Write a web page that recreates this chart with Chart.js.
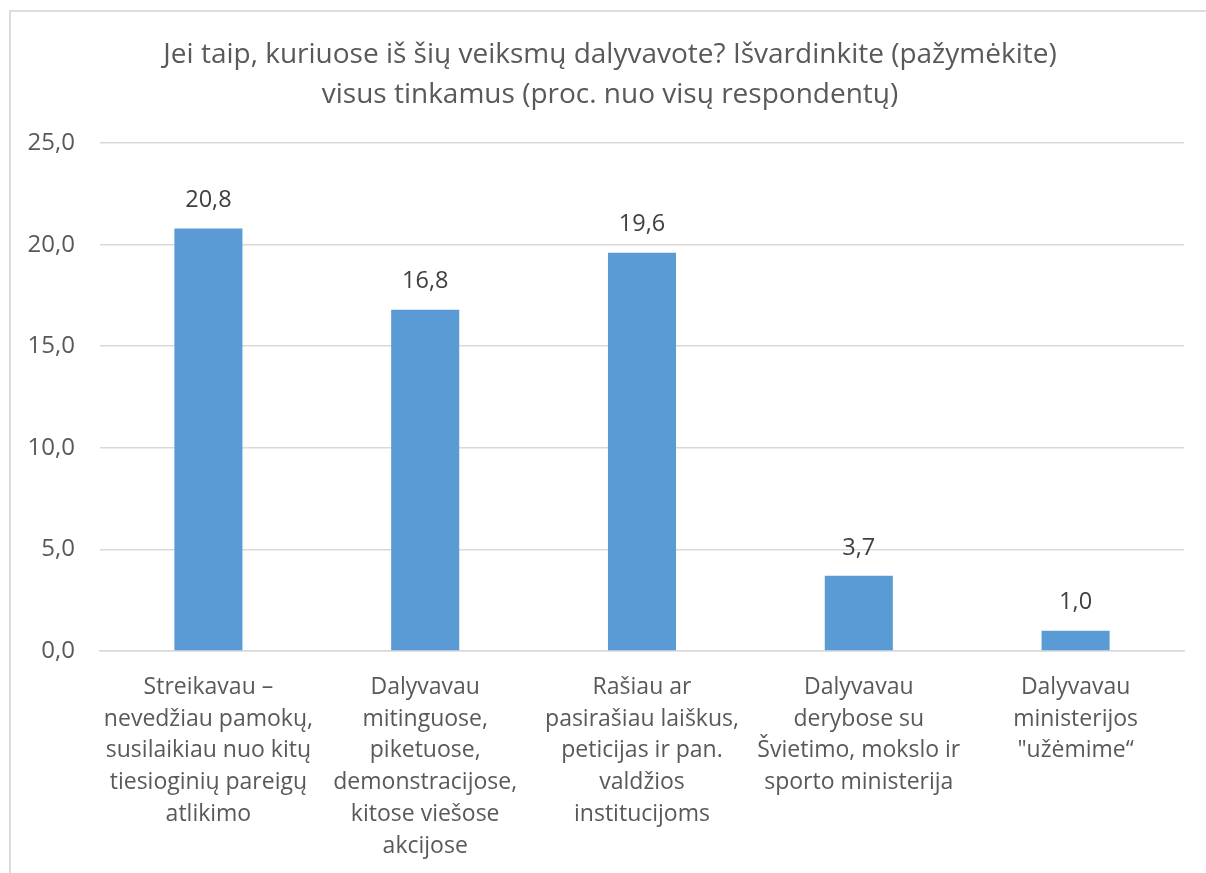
<!DOCTYPE html>
<html lang="lt">
<head>
<meta charset="utf-8">
<script src="https://cdn.jsdelivr.net/npm/chart.js@4"></script>
<style>
  html,body{margin:0;padding:0;background:#fff;overflow:hidden}
  #wrap{position:relative;width:1206px;height:873px}
  #frame{position:absolute;left:9px;top:10px;width:1300px;height:1000px;border:2px solid #DCDCDC;pointer-events:none}
</style>
</head>
<body>
<div id="wrap">
  <canvas id="chart-veiksmai" width="1206" height="873"></canvas>
  <div id="frame"></div>
</div>
<script>
/* apklausa: kuriuose veiksmuose dalyvavo (proc.) */
var titulas=['Jei taip, kuriuose iš šių veiksmų dalyvavote? Išvardinkite (pažymėkite)','visus tinkamus (proc. nuo visų respondentų)'];
var kategorijos=[
  ['Streikavau –','nevedžiau pamokų,','susilaikiau nuo kitų','tiesioginių pareigų','atlikimo'],
  ['Dalyvavau','mitinguose,','piketuose,','demonstracijose,','kitose viešose','akcijose'],
  ['Rašiau ar','pasirašiau laiškus,','peticijas ir pan.','valdžios','institucijoms'],
  ['Dalyvavau','derybose su','Švietimo, mokslo ir','sporto ministerija'],
  ['Dalyvavau','ministerijos','"užėmime“']
];
var reiksmes=[20.8,16.8,19.6,3.7,1.0];
var yMin=0, yMax=25, yZingsnis=5;

var SRIFTAS='"Open Sans", "Noto Sans", sans-serif';
function kablelis(v){return v.toFixed(1).replace('.',',');}

// reikšmės virš stulpelių
var etiketes={
  id:'etiketes',
  afterDatasetsDraw:function(ch){
    var c=ch.ctx, meta=ch.getDatasetMeta(0);
    c.save();
    c.font='23.5px '+SRIFTAS;
    c.fillStyle='#404040';
    c.textAlign='center';
    c.textBaseline='middle';
    meta.data.forEach(function(b,i){c.fillText(kablelis(reiksmes[i]),b.x,b.y-28);});
    c.restore();
  }
};

// pavadinimas centruojamas pagal visą rėmelį, ne pagal braižymo sritį
var pavadinimoPoslinkis={
  id:'pavadinimoPoslinkis',
  afterLayout:function(ch){
    var t=ch.titleBlock;
    if(t){t.left+=18;t.right+=18;}
  }
};

new Chart(document.getElementById('chart-veiksmai'),{
  type:'bar',
  data:{labels:kategorijos,datasets:[{data:reiksmes,backgroundColor:'#5B9BD5',borderWidth:0,barPercentage:0.314,categoryPercentage:1}]},
  options:{
    responsive:false,animation:false,
    layout:{padding:{left:0,right:22,top:0,bottom:0}},
    plugins:{
      legend:{display:false},tooltip:{enabled:false},
      title:{display:true,text:titulas,color:'#595959',font:{family:SRIFTAS,size:28,weight:'normal',lineHeight:1.43},padding:{top:35,bottom:28}}
    },
    scales:{
      y:{
        min:yMin,max:yMax,
        ticks:{stepSize:yZingsnis,color:'#595959',font:{family:SRIFTAS,size:24},padding:25,callback:function(v){return kablelis(v);}},
        grid:{color:'#D9D9D9',lineWidth:1.5,drawTicks:false},
        border:{display:false},
        afterFit:function(s){s.width=100;}
      },
      x:{
        ticks:{color:'#595959',font:{family:SRIFTAS,size:23,lineHeight:1.39},padding:20,maxRotation:0,autoSkip:false},
        grid:{display:false,drawTicks:false},
        border:{display:true,color:'#D9D9D9',width:1.5},
        afterFit:function(s){s.height=222;}
      }
    }
  },
  plugins:[etiketes,pavadinimoPoslinkis]
});
</script>
</body>
</html>
